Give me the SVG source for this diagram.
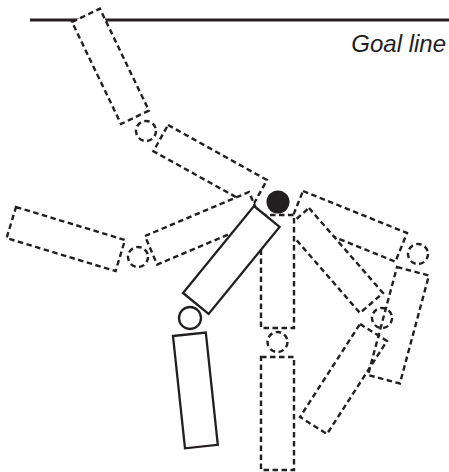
<svg xmlns="http://www.w3.org/2000/svg" width="449" height="472" viewBox="0 0 449 472">
  <style>
    .ghost { fill: #fff; stroke: #231f20; stroke-width: 2.4; stroke-dasharray: 5.5 3.5; }
    .open { fill: none; }
    .solid { fill: #fff; stroke: #231f20; stroke-width: 2.3; }
    .label { font-family: "Liberation Sans", Arial, sans-serif; font-style: italic; font-size: 24px; fill: #231f20; }
  </style>
  <rect width="449" height="472" fill="#fff"/>

  <!-- goal line and caption -->
  <line x1="30" y1="20" x2="449" y2="20" stroke="#231f20" stroke-width="3"/>
  <text class="label" x="446" y="52" text-anchor="end">Goal line</text>

  <!-- pose: raised towards the goal line -->
  <g id="pose-up">
    <polygon class="ghost" points="72,22 99.9,8.6 148.9,110.6 121,124"/>
    <circle class="ghost open" cx="146" cy="131" r="10"/>
    <polygon class="ghost" points="168,125 267,180 252.4,206.2 153.4,151.2"/>
  </g>

  <!-- pose: stretched out to the left -->
  <g id="pose-left">
    <polygon class="ghost" points="16,207 125,240 115.6,271.1 6.6,238.1"/>
    <circle class="ghost open" cx="138" cy="257" r="10"/>
    <polygon class="ghost" points="145,236 249,192 261.1,220.6 157.1,264.6"/>
  </g>

  <!-- pose: out to the right, lower limb hanging -->
  <g id="pose-right">
    <polygon class="ghost" points="303,191 407,233 395.4,261.7 291.4,219.7"/>
    <circle class="ghost open" cx="418" cy="254" r="10"/>
    <polygon class="ghost" points="397,267 428.9,275.5 399.9,383.5 368,375"/>
  </g>

  <!-- pose: down and to the right, lower limb folded back -->
  <g id="pose-down-right">
    <polygon class="ghost" points="309,208 383,293 360,313 286,228"/>
    <circle class="ghost open" cx="382" cy="318" r="10"/>
    <polygon class="ghost open" points="360,324 387,341 327,434 300,417"/>
  </g>

  <!-- pose: hanging straight down -->
  <g id="pose-down">
    <rect class="ghost" x="261" y="215" width="33" height="113"/>
    <circle class="ghost open" cx="277.5" cy="342" r="10"/>
    <rect class="ghost" x="261" y="357" width="33" height="113"/>
  </g>

  <!-- current pose -->
  <g id="pose-current">
    <polygon class="solid" points="254,206 279.6,226.9 208.6,313.9 183,293"/>
    <circle class="solid" cx="190" cy="318" r="11"/>
    <polygon class="solid" points="173,336 205.8,332.5 217.8,444.8 185,448.3"/>
  </g>

  <!-- ball -->
  <g id="ball">
    <circle cx="278" cy="202" r="11.5" fill="#231f20"/>
  </g>
</svg>
